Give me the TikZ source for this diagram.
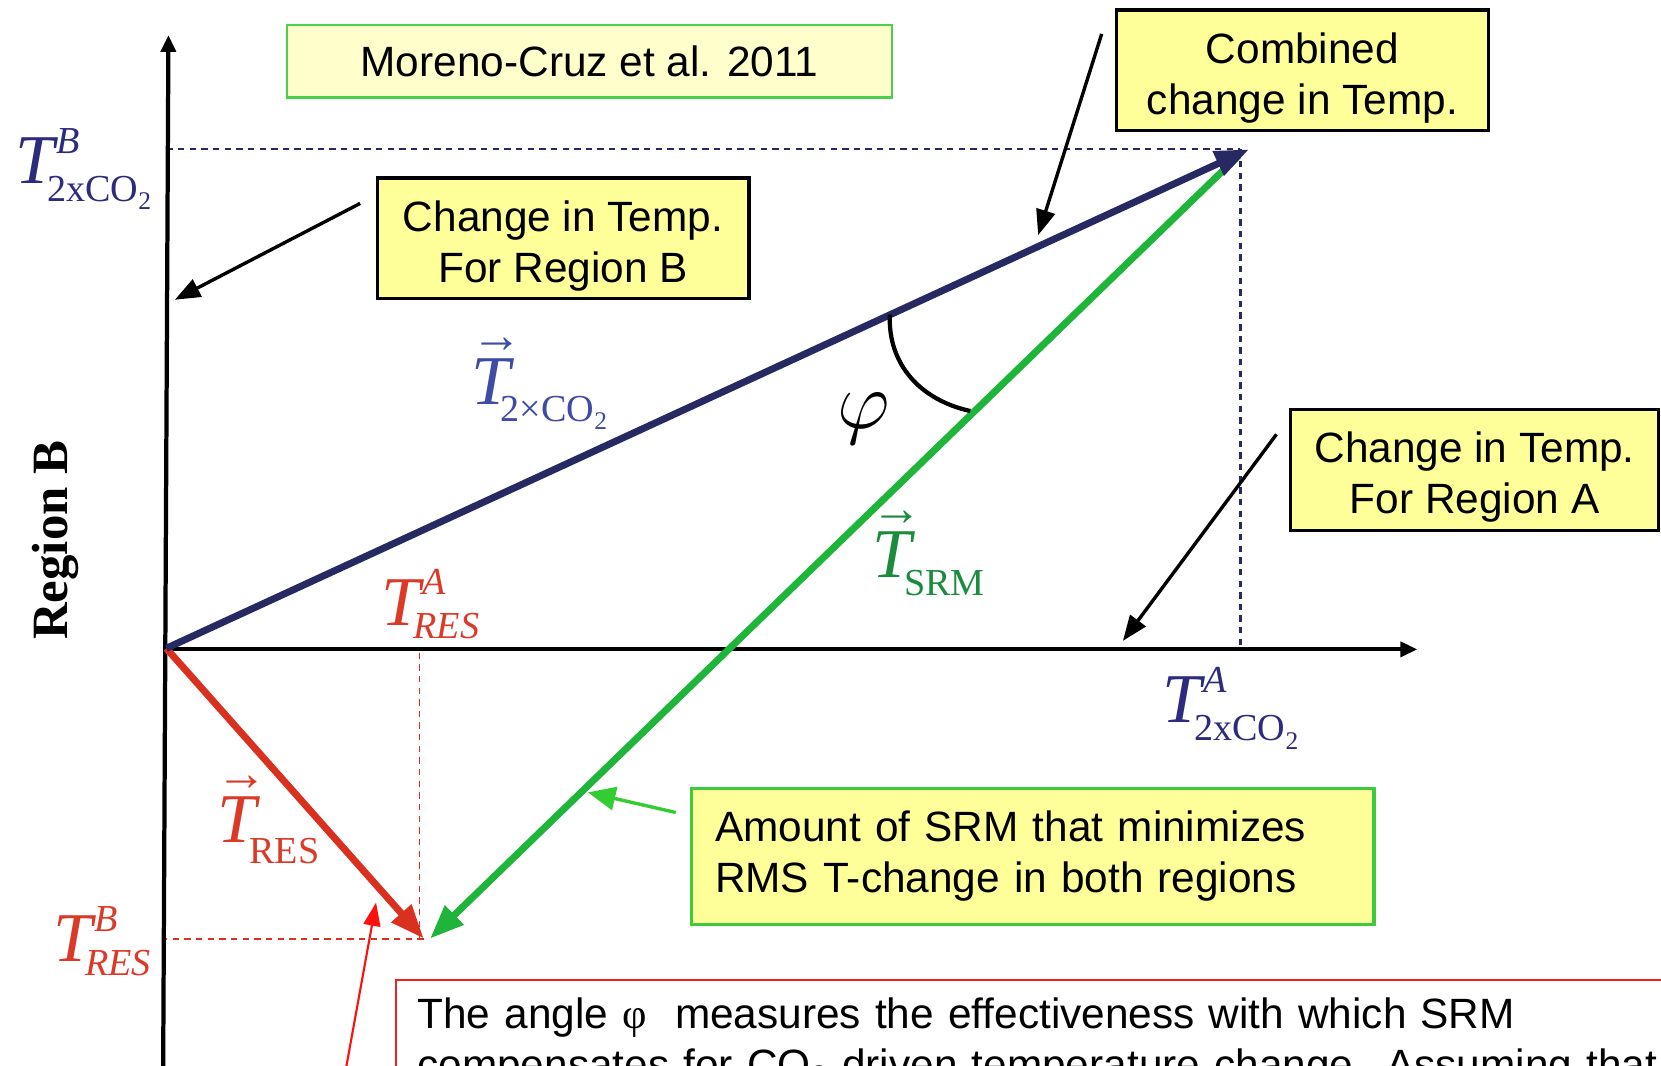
\documentclass[tikz,border=0pt]{standalone}
\usepackage{fontspec}
\setmainfont{Liberation Serif}
\setsansfont{Liberation Sans}
\usepackage{graphicx}
\usetikzlibrary{arrows.meta}
\definecolor{navy}{HTML}{272A62}
\definecolor{navytxt}{HTML}{2D2B7D}
\definecolor{bluetxt}{HTML}{3E4CA4}
\definecolor{vgreen}{HTML}{1EB53A}
\definecolor{greentxt}{HTML}{1B8B3E}
\definecolor{vred}{HTML}{DA3020}
\definecolor{redtxt}{HTML}{DC3A28}
\definecolor{pred}{HTML}{FF1010}
\definecolor{boxfill}{HTML}{FFFF99}
\definecolor{mfill}{HTML}{FFFFCC}
\definecolor{mgreen}{HTML}{4CD04C}
\definecolor{gborder}{HTML}{3CCB3C}
\definecolor{gptr}{HTML}{33CC33}
\definecolor{rborder}{HTML}{EE2020}
\newcommand\supf{\fontsize{18}{18}\selectfont}
\newcommand\tinyf{\fontsize{12}{12}\selectfont}
\newcommand\COtwo{CO\raisebox{-0.22em}{\tinyf 2}}
\newcommand\topstrut{\rule{0pt}{21.5pt}}
% T with superscript #1, subscript #2, subscript drop #3
\newcommand\TSS[3]{{\itshape T}\rlap{\kern0.03em\raisebox{0.43em}{\supf\itshape #1}}\kern-0.1em\raisebox{-#3}{\supf #2}}
\newcommand\vT{\ooalign{{\itshape T}\cr\hidewidth\kern0.15em\raisebox{0.74em}{\fontsize{24}{24}\selectfont\upshape →}\hidewidth\cr}}
\tikzset{
  ybox/.style={draw=black, line width=1.5pt, fill=boxfill, align=center,
    font=\sffamily\fontsize{20}{24}\selectfont, minimum width=175.5pt,
    minimum height=57pt, inner sep=0pt},
  ptr/.style={draw=black, line width=1.6pt, -{Triangle[length=12pt,width=9pt]}},
  vecline/.style={line width=3.3pt, -{Triangle[length=16pt,width=12pt]}},
  axis/.style={draw=black, line width=2pt, -{Triangle[length=8pt,width=7pt]}},
  ndash/.style={draw=navy, line width=1pt, dash pattern=on 3pt off 2.5pt},
  rdash/.style={draw=vred, line width=0.9pt, dash pattern=on 3pt off 2.5pt},
  biglab/.style={inner sep=0pt, anchor=base west, font=\fontsize{33}{33}\selectfont}
}
\begin{document}
\begin{tikzpicture}[x=0.5pt,y=-0.5pt]
\useasboundingbox (0,0) rectangle (1568,1006);
\clip (0,0) rectangle (1568,1006);
\fill[white] (0,0) rectangle (1568,1006);
% geometry
\coordinate (O) at (157,612);
\coordinate (P) at (1171,141);
\coordinate (R) at (400,886);
\coordinate (ybot) at (154,1012);
\coordinate (ytop) at (159,33);
\coordinate (xst) at (155,613);
\coordinate (xtip) at (1338,613);
% dashed guides
\draw[ndash] (O |- P) -- (P);
\draw[ndash] (P) -- (P |- xst);
\draw[rdash] ([xshift=-2]R) -- ([xshift=-2]R |- xst);
\draw[rdash] (R) -- (O |- R);
% axes
\draw[axis] (ybot) -- (ytop);
\draw[axis] (xst) -- (xtip);
% vectors
\draw[vecline, draw=vgreen, -{Triangle[length=16pt,width=12pt,fill=vgreen]}] ([shift={(-2,6)}]P) -- ([xshift=3]R);
\draw[vecline, draw=vred] (O) -- (R);
\draw[vecline, draw=navy] (O) -- ([xshift=4]P);
% angle
\coordinate (a1) at (840,297);
\coordinate (a2) at (916,388);
\draw[line width=2pt] (a1) .. controls (838,345) and (870,378) .. (a2);
\node[inner sep=0pt, font=\fontsize{24}{24}\selectfont] (phi) at (815,395) {\scalebox{1.55}{$\varphi$}};
% labels
\node[biglab, text=navytxt] (tb2) at (14,173) {\TSS{B}{2x\COtwo}{0.26em}};
\node[biglab, text=navytxt] (ta2) at (1097,682) {\TSS{A}{2x\COtwo}{0.26em}};
\node[biglab, text=redtxt] (tares) at (360,590) {\TSS{A}{\itshape RES}{0.2em}};
\node[biglab, text=redtxt] (tbres) at (50,908) {\TSS{B}{\itshape RES}{0.2em}};
\node[biglab, text=bluetxt] (v2co) at (445,382) {\vT\kern-0.14em\raisebox{-0.24em}{\supf 2×\COtwo}};
\node[biglab, text=greentxt] (vsrm) at (823,545) {\vT\kern-0.1em\raisebox{-0.26em}{\supf SRM}};
\node[biglab, text=redtxt] (vres) at (205,795) {\vT\kern-0.1em\raisebox{-0.3em}{\supf RES}};
\node[rotate=90, inner sep=0pt, font=\bfseries\fontsize{24}{24}\selectfont] (regb) at (52,510) {Region B};
% boxes
\node[draw=mgreen, line width=1pt, fill=mfill, minimum width=285.5pt, minimum height=34pt,
  inner sep=0pt, font=\sffamily\fontsize{20}{24}\selectfont] (moreno) at (556.5,58) {Moreno-Cruz et al. 2011};
\node[ybox] (boxB) at (531.5,225) {\topstrut Change in Temp.\\For Region B};
\node[ybox] (boxC) at (1229.5,66.5) {\topstrut Combined\\change in Temp.};
\node[ybox, minimum width=174pt] (boxA) at (1392,443.5) {\topstrut Change in Temp.\\For Region A};
\node[draw=gborder, line width=1.5pt, fill=boxfill, minimum width=322pt, minimum height=64.5pt,
  text width=300pt, inner xsep=11pt, inner ysep=0pt, align=left,
  font=\sffamily\fontsize{20}{24}\selectfont] (boxG) at (975,808.5)
  {Amount of SRM that minimizes\\RMS T-change in both regions};
\node[draw=rborder, line width=1pt, fill=white, anchor=north west, text width=640pt,
  inner xsep=10pt, inner ysep=8.5pt, align=left,
  font=\sffamily\fontsize{20}{24}\selectfont] (note) at (373,924)
  {The angle {\rmfamily φ}\ \ measures the effectiveness with which SRM\\
   compensates for CO\textsubscript{2}-driven temperature change. Assuming that\\ \ };
% pointers
\coordinate (bBs) at (340,192);  \coordinate (bBe) at (165,283);
\coordinate (bCs) at (1040,32);  \coordinate (bCe) at (980,222);
\coordinate (bAs) at (1205,410); \coordinate (bAe) at (1060,605);
\coordinate (bGs) at (638,767);  \coordinate (bGe) at (555,748);
\coordinate (bRs) at (326,1012); \coordinate (bRe) at (355,852);
\draw[ptr] (bBs) -- (bBe);
\draw[ptr] (bCs) -- (bCe);
\draw[ptr] (bAs) -- (bAe);
\draw[draw=gptr, line width=1.6pt, -{Triangle[length=13pt,width=11pt]}] (bGs) -- (bGe);
\draw[draw=pred, line width=1pt, -{Triangle[length=11pt,width=8pt]}] (bRs) -- (bRe);
\end{tikzpicture}
\end{document}
